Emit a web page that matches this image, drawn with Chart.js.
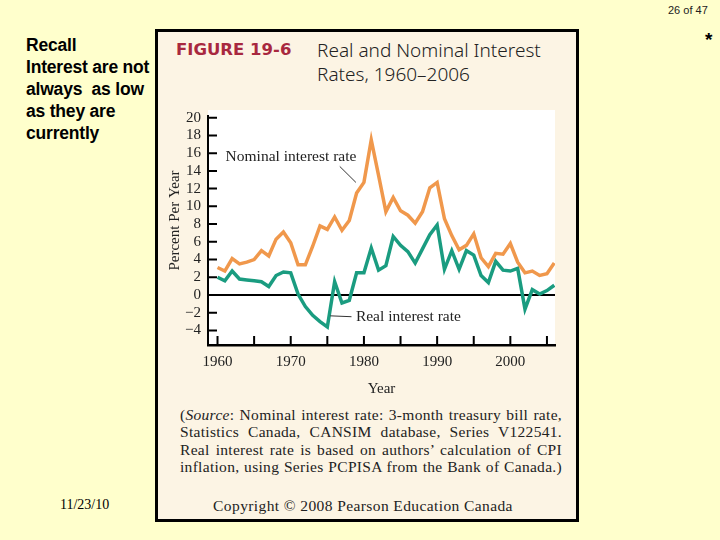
<!DOCTYPE html>
<html lang="en">
<head>
  <meta charset="UTF-8">
  <title>Real and Nominal Interest Rates, 1960-2006</title>
  <script src="https://cdn.jsdelivr.net/npm/chart.js"></script>
  <style>
    body {
      margin: 0;
      width: 720px;
      height: 540px;
      background: #FFFFCC;
      position: relative;
      overflow: hidden;
      font-family: "Liberation Sans", Arial, sans-serif;
    }
    .page-no {
      position: absolute;
      left: 668px;
      top: 4px;
      font-family: "Liberation Sans Narrow", "Liberation Sans", sans-serif;
      font-size: 11px;
      color: #222;
    }
    .star {
      position: absolute;
      left: 705px;
      top: 29px;
      font-size: 19px;
      font-weight: bold;
    }
    .side {
      position: absolute;
      left: 26px;
      top: 34px;
      font-size: 17.5px;
      font-weight: bold;
      line-height: 22px;
      white-space: pre;
      letter-spacing: -0.2px;
    }
    .date {
      position: absolute;
      left: 60px;
      top: 497px;
      font-family: "Liberation Serif", serif;
      font-size: 14px;
    }
    .box {
      position: absolute;
      left: 155px;
      top: 29px;
      width: 418px;
      height: 487px;
      border: 3.5px solid #000;
      background: #FCF4E4;
    }
    .fig {
      position: absolute;
      left: 176px;
      top: 40px;
      font-family: "DejaVu Sans", sans-serif;
      font-weight: bold;
      font-size: 16.5px;
      color: #A8283F;
    }
    .ttl {
      position: absolute;
      left: 317px;
      top: 38px;
      font-family: "Noto Sans", sans-serif;
      font-weight: 300;
      font-size: 19px;
      line-height: 24px;
      color: #222;
    }
    .plotbg {
      position: absolute;
      left: 208px;
      top: 110px;
      width: 347px;
      height: 235px;
      background: #fff;
    }
    #chart {
      position: absolute;
      left: 150px;
      top: 100px;
    }
    .src {
      position: absolute;
      left: 180px;
      top: 406px;
      width: 382px;
      font-family: "Liberation Serif", serif;
      font-size: 15.5px;
      letter-spacing: 0.3px;
      line-height: 17.3px;
      color: #222;
    }
    .src div {
      text-align: justify;
      text-align-last: justify;
      white-space: nowrap;
    }
    .copy {
      position: absolute;
      left: 180px;
      width: 366px;
      top: 497px;
      text-align: center;
      font-family: "Liberation Serif", serif;
      font-size: 15.5px;
      letter-spacing: 0.4px;
      color: #222;
    }
  </style>
</head>
<body>
  <div class="page-no">26 of 47</div>
  <div class="star">*</div>
  <div class="side">Recall
Interest are not
always  as low
as they are
currently</div>
  <div class="date">11/23/10</div>

  <div class="box"></div>
  <div class="fig">FIGURE 19-6</div>
  <div class="ttl">Real and Nominal Interest<br>Rates, 1960–2006</div>
  <div class="plotbg"></div>

  <canvas id="chart" width="420" height="300"></canvas>

  <div class="src">
    <div>(<i>Source</i>: Nominal interest rate: 3-month treasury bill rate,</div>
    <div>Statistics Canada, CANSIM database, Series V122541.</div>
    <div>Real interest rate is based on authors’ calculation of CPI</div>
    <div>inflation, using Series PCPISA from the Bank of Canada.)</div>
  </div>
  <div class="copy">Copyright © 2008 Pearson Education Canada</div>

  <script>
    // 数据 (1960-2006)
    const years = [];
    for (let y = 1960; y <= 2006; y++) years.push(y);

    const nominalRate = [
      3.1, 2.7, 4.1, 3.5, 3.7, 4.0, 5.0, 4.4, 6.3, 7.1,
      5.9, 3.4, 3.4, 5.5, 7.8, 7.4, 8.8, 7.3, 8.4, 11.5,
      12.7, 17.5, 13.5, 9.4, 11.0, 9.5, 9.0, 8.1, 9.4, 12.1,
      12.7, 8.6, 6.7, 5.1, 5.6, 6.9, 4.2, 3.2, 4.7, 4.6,
      5.8, 3.7, 2.5, 2.7, 2.2, 2.4, 3.6
    ];
    const realRate = [
      2.0, 1.6, 2.7, 1.8, 1.7, 1.6, 1.5, 0.95, 2.2, 2.6,
      2.5, 0.1, -1.3, -2.3, -3.0, -3.6, 1.5, -0.9, -0.6, 2.5,
      2.5, 5.3, 2.8, 3.3, 6.6, 5.6, 4.9, 3.6, 5.2, 6.8,
      7.9, 2.9, 5.0, 2.9, 5.0, 4.5, 2.2, 1.4, 3.8, 2.8,
      2.7, 3.0, -1.6, 0.6, 0.1, 0.5, 1.1
    ];

    const yTicks = [-4, -2, 0, 2, 4, 6, 8, 10, 12, 14, 16, 18, 20];
    const xTicks = [1960, 1965, 1970, 1975, 1980, 1985, 1990, 1995, 2000, 2005];

    const serif = '"Liberation Serif", serif';
    const ink = '#222';

    // 刻度线朝内 + 标注文字
    const extras = {
      id: 'extras',
      afterDraw(chart) {
        const { ctx, chartArea: a, scales: { x, y } } = chart;
        ctx.save();
        ctx.strokeStyle = '#000';
        ctx.lineWidth = 2;
        ctx.beginPath();
        yTicks.forEach(v => {
          const py = y.getPixelForValue(v);
          ctx.moveTo(a.left, py);
          ctx.lineTo(a.left + 9, py);
        });
        xTicks.forEach(v => {
          const px = x.getPixelForValue(v);
          ctx.moveTo(px, a.bottom);
          ctx.lineTo(px, a.bottom - 9);
        });
        ctx.stroke();

        ctx.fillStyle = ink;
        ctx.font = '15.5px ' + serif;
        ctx.textBaseline = 'middle';
        ctx.fillText('Nominal interest rate', x.getPixelForValue(1961.1), y.getPixelForValue(15.6));
        ctx.fillText('Real interest rate', x.getPixelForValue(1978.9), y.getPixelForValue(-2.5));

        ctx.lineWidth = 1;
        ctx.strokeStyle = '#333';
        ctx.beginPath();
        ctx.moveTo(x.getPixelForValue(1976.7), y.getPixelForValue(14.5));
        ctx.lineTo(x.getPixelForValue(1978.9), y.getPixelForValue(12.7));
        ctx.moveTo(x.getPixelForValue(1975.4), y.getPixelForValue(-2.35));
        ctx.lineTo(x.getPixelForValue(1978.3), y.getPixelForValue(-2.45));
        ctx.stroke();

        // y 轴标题
        ctx.save();
        ctx.translate(25, y.getPixelForValue(8.4));
        ctx.rotate(-Math.PI / 2);
        ctx.textAlign = 'center';
        ctx.font = '15px ' + serif;
        ctx.fillText('Percent Per Year', 0, 0);
        ctx.restore();
        ctx.restore();
      }
    };

    const ctx = document.getElementById('chart').getContext('2d');
    const chart = new Chart(ctx, {
      type: 'line',
      data: {
        datasets: [{
          label: 'Nominal interest rate',
          data: years.map((yr, i) => ({ x: yr, y: nominalRate[i] })),
          borderColor: '#F0984C',
          borderWidth: 3.5,
          pointRadius: 0,
          tension: 0
        }, {
          label: 'Real interest rate',
          data: years.map((yr, i) => ({ x: yr, y: realRate[i] })),
          borderColor: '#1A9C80',
          borderWidth: 3.5,
          pointRadius: 0,
          tension: 0
        }]
      },
      options: {
        responsive: false,
        animation: false,
        layout: { padding: { left: 0, right: 15, top: 10, bottom: 0 } },
        plugins: {
          legend: { display: false },
          tooltip: { enabled: false }
        },
        scales: {
          x: {
            type: 'linear',
            min: 1958.7,
            max: 2006.1,
            afterFit: s => { s.height = 55; },
            afterBuildTicks: s => { s.ticks = xTicks.map(v => ({ value: v })); },
            ticks: {
              padding: 8,
              autoSkip: false,
              color: ink,
              font: { family: serif, size: 15 },
              maxRotation: 0,
              callback: v => (v % 10 === 0 ? String(v) : '')
            },
            grid: { drawOnChartArea: false, drawTicks: false, color: 'transparent' },
            border: { display: true, color: '#000', width: 2.5 },
            title: {
              display: true,
              text: 'Year',
              color: ink,
              font: { family: serif, size: 15 },
              padding: { top: 0, bottom: 2 }
            }
          },
          y: {
            min: -5.64,
            max: 20.19,
            afterFit: s => { s.width = 58; },
            afterBuildTicks: s => { s.ticks = yTicks.map(v => ({ value: v })); },
            ticks: {
              padding: 7,
              autoSkip: false,
              color: ink,
              font: { family: serif, size: 15 },
              callback: v => (v < 0 ? '−' + Math.abs(v) : String(v))
            },
            grid: {
              drawTicks: false,
              lineWidth: 2,
              color: c => (c.tick && c.tick.value === 0 ? '#000' : 'transparent')
            },
            border: { display: true, color: '#000', width: 2 }
          }
        }
      },
      plugins: [extras]
    });
  </script>
</body>
</html>
